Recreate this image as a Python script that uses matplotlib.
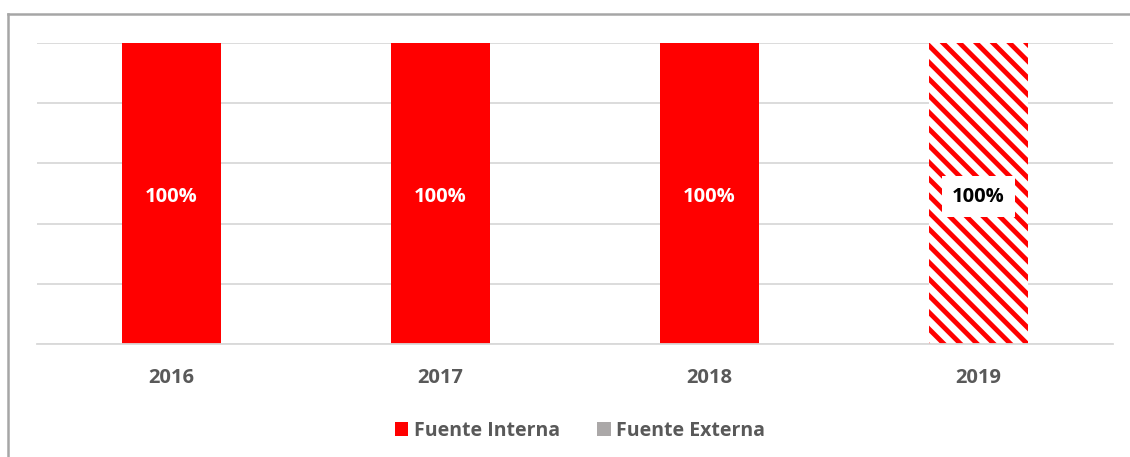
import matplotlib.pyplot as plt
from matplotlib.patches import Patch
from matplotlib.lines import Line2D

years = ['2016', '2017', '2018', '2019']
interna = [100, 100, 100, 100]
externa = [0, 0, 0, 0]
labels = ['100%', '100%', '100%', '100%']

plt.rcParams['font.family'] = ['Open Sans', 'DejaVu Sans']
plt.rcParams['hatch.linewidth'] = 3.5

RED = '#FF0000'
GRAY = '#ABA8A8'
TXT = '#595959'

fig = plt.figure(figsize=(11.3, 4.57), dpi=100)
W, H = 1130, 457
ax = fig.add_axes([37 / W, (H - 344) / H, (1113 - 37) / W, (344 - 43) / H])

x = range(len(years))
for i in x:
    if i == 3:
        ax.bar(i, interna[i], width=0.37, facecolor='white', edgecolor=RED,
               hatch='\\\\', linewidth=0, zorder=2)
        ax.text(i, interna[i] * 0.49, labels[i], ha='center', va='center',
                fontsize=14.5, fontweight='bold', color='black', zorder=3,
                bbox=dict(boxstyle='square,pad=0.5', facecolor='white', edgecolor='none'))
    else:
        ax.bar(i, interna[i], width=0.37, color=RED, linewidth=0, zorder=2)
        ax.text(i, interna[i] * 0.49, labels[i], ha='center', va='center',
                fontsize=14.5, fontweight='bold', color='white', zorder=3)

ax.set_xlim(-0.5, 3.5)
ax.set_ylim(0, 100)
ax.set_yticks([0, 20, 40, 60, 80, 100])
ax.yaxis.grid(True, color='#D9D9D9', linewidth=1.3, zorder=0)
ax.set_axisbelow(True)
ax.tick_params(axis='y', left=False, labelleft=False)
ax.tick_params(axis='x', bottom=False, pad=14)
ax.set_xticks(list(x))
ax.set_xticklabels(years, fontsize=14.5, fontweight='bold', color=TXT)
for s in ['top', 'right', 'left']:
    ax.spines[s].set_visible(False)
ax.spines['bottom'].set_color('#D9D9D9')
ax.spines['bottom'].set_linewidth(1.3)

handles = [Patch(facecolor=RED, edgecolor='none'), Patch(facecolor=GRAY, edgecolor='none')]
fig.legend(handles, ['Fuente Interna', 'Fuente Externa'], loc='center',
           bbox_to_anchor=(580 / W, (H - 431) / H), ncol=2, frameon=False,
           handlelength=0.7, handleheight=0.7, handletextpad=0.3, columnspacing=1.9,
           prop={'size': 14, 'weight': 'bold'}, labelcolor=TXT)

# outer frame (top and left edges visible)
fig.add_artist(Line2D([7.5 / W, 1.0], [(H - 13.5) / H] * 2, color='#A6A6A6', linewidth=1.8))
fig.add_artist(Line2D([7.5 / W] * 2, [0, (H - 13.5) / H], color='#A6A6A6', linewidth=1.8))

fig.savefig('out.png', dpi=100)
